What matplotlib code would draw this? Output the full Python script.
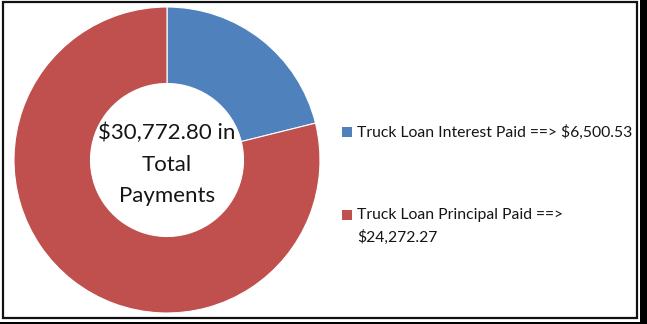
import matplotlib
matplotlib.use("Agg")
import matplotlib.pyplot as plt
from matplotlib.patches import Rectangle

labels = ["Truck Loan Interest Paid ==> $6,500.53",
          "Truck Loan Principal Paid ==>\n$24,272.27"]
values = [6500.53, 24272.27]
colors = ["#4F81BD", "#C0504D"]
center_lines = ["$30,772.80 in", "Total", "Payments"]

W, H = 647, 324
fig = plt.figure(figsize=(W / 100, H / 100), dpi=100)
fig.patch.set_facecolor("white")
FONT = "Lato"

def fx(px):
    return px / W

def fy(py):
    return (H - py) / H

# donut axes: center (167,160) px from top, radius 153
cx, cy, r = 167, 160, 153
ax = fig.add_axes([(cx - r) / W, (H - cy - r) / H, 2 * r / W, 2 * r / H])
ax.pie(values, colors=colors, startangle=90, counterclock=False,
       radius=1.0, wedgeprops=dict(width=0.5, edgecolor="white", linewidth=0.8))
ax.set_xlim(-1, 1)
ax.set_ylim(-1, 1)
ax.set_aspect("equal")
ax.axis("off")

# centre text, baselines in px
for line, base in zip(center_lines, [139, 171, 202]):
    fig.text(fx(cx), fy(base), line, ha="center", va="baseline",
             fontsize=16, family=FONT, color="#151515")

# legend drawn manually
ys = [132, 215]
for lab, col, y in zip(labels, colors, ys):
    fig.patches.append(Rectangle((fx(342), fy(y + 5)), 10 / W, 10 / H,
                                 transform=fig.transFigure, facecolor=col,
                                 edgecolor="none"))
    parts = lab.split("\n")
    for k, part in enumerate(parts):
        fig.text(fx(357), fy(y + 22 * k), part, ha="left", va="center",
                 fontsize=11.3, family=FONT, color="#151515")

# borders
fig.patches.append(Rectangle((2.5 / W, (H - 317.5) / H), 634 / W, 316 / H,
                             transform=fig.transFigure, facecolor="none",
                             edgecolor="#111111", linewidth=1.6))
fig.patches.append(Rectangle((640 / W, 0), 7 / W, 1,
                             transform=fig.transFigure, facecolor="black",
                             edgecolor="none"))
fig.patches.append(Rectangle((0, 0), 1, 2.5 / H,
                             transform=fig.transFigure, facecolor="black",
                             edgecolor="none"))

fig.savefig("out.png", dpi=100)
